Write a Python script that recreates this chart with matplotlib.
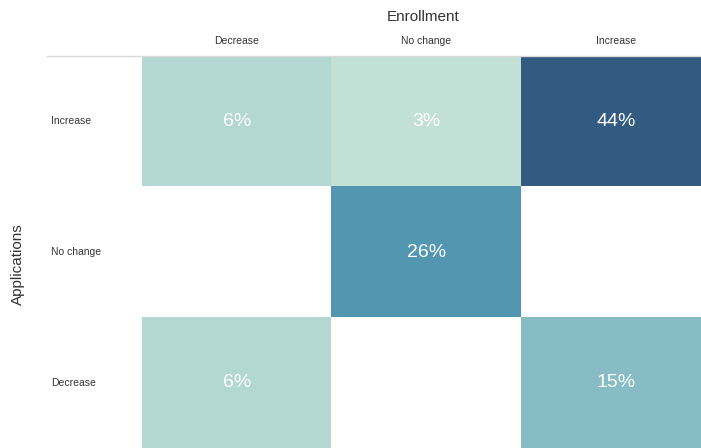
import numpy as np
import matplotlib
matplotlib.use("Agg")
import matplotlib.pyplot as plt
from matplotlib.colors import LinearSegmentedColormap
from matplotlib.lines import Line2D

plt.rcParams["font.family"] = ["Liberation Sans", "DejaVu Sans"]

# ── Data ──────────────────────────────────────────────────────────────────────
enrollment = ["Decrease", "No change", "Increase"]        # columns
applications = ["Increase", "No change", "Decrease"]      # rows, top to bottom
shares = np.array([
    [6, 3, 44],
    [np.nan, 26, np.nan],
    [6, np.nan, 15],
])

# ── Colour scale ──────────────────────────────────────────────────────────────
vmin, vmax = 3, 44
stops = [(3, "#c3e0d6"), (6, "#b3d7d1"), (15, "#87bcc4"),
         (26, "#5296b1"), (44, "#335a80")]
cmap = LinearSegmentedColormap.from_list(
    "cells", [((v - vmin) / (vmax - vmin), c) for v, c in stops])
cmap.set_bad("white")

W, H = 701, 448
fig = plt.figure(figsize=(W / 100, H / 100), dpi=100)
fig.patch.set_facecolor("white")

left, right, top = 142, 711, 56
ax = fig.add_axes([left / W, 0, (right - left) / W, (H - top) / H])
ax.imshow(np.ma.masked_invalid(shares), cmap=cmap, vmin=vmin, vmax=vmax,
          aspect="auto", interpolation="nearest")
ax.set_axis_off()

for i in range(shares.shape[0]):
    for j in range(shares.shape[1]):
        if not np.isnan(shares[i, j]):
            ax.text(j, i, f"{shares[i, j]:.0f}%", ha="center", va="center",
                    color="white", fontsize=14)

# column headers
for j, lab in enumerate(enrollment):
    x = (left + (right - left) * (j + 0.5) / 3) / W
    fig.text(x, 1 - 41 / H, lab, ha="center", va="center",
             fontsize=7.5, color="#333333")
fig.text(423 / W, 1 - 17 / H, "Enrollment", ha="center", va="center",
         fontsize=11, color="#333333")

# row headers
for i, lab in enumerate(applications):
    y = 1 - (top + (H - top) * (i + 0.5) / 3) / H
    fig.text(51 / W, y, lab, ha="left", va="center",
             fontsize=7.5, color="#333333")
fig.text(18 / W, 1 - 264 / H, "Applications", ha="center", va="center",
         rotation=90, fontsize=11, color="#333333")

fig.add_artist(Line2D([47 / W, 1], [1 - top / H, 1 - top / H],
                      color="#d9d9d9", lw=1))

fig.savefig("out.png", dpi=100)
